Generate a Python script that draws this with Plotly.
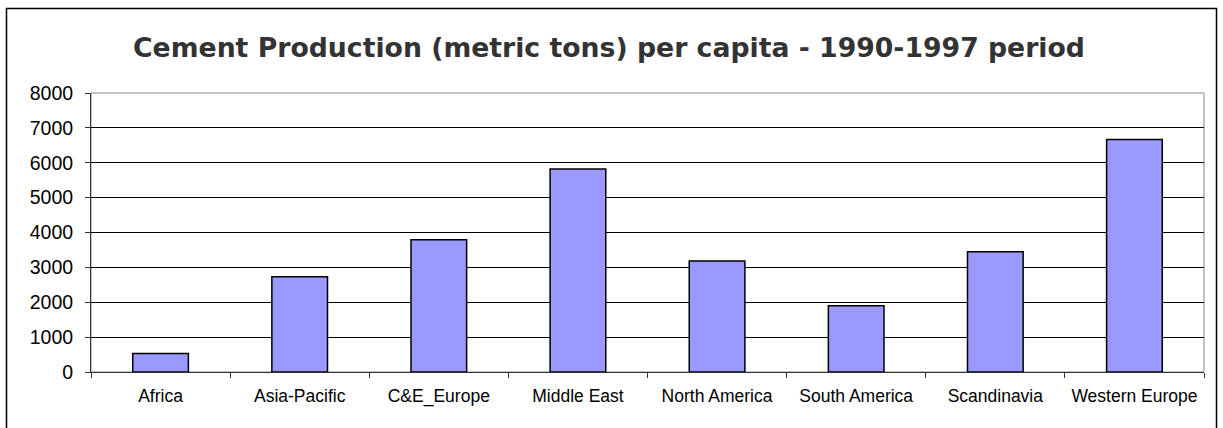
import plotly.graph_objects as go

categories = ["Africa", "Asia-Pacific", "C&E_Europe", "Middle East",
              "North America", "South America", "Scandinavia", "Western Europe"]
values = [530, 2730, 3790, 5820, 3180, 1900, 3450, 6670]
y_ticks = [0, 1000, 2000, 3000, 4000, 5000, 6000, 7000, 8000]
title_text = "Cement Production (metric tons) per capita - 1990-1997 period"

W, H = 1223, 428
ml, mr, mt, mb = 91, 19, 93, 56
pw, ph = W - ml - mr, H - mt - mb

fig = go.Figure(go.Bar(
    x=categories, y=values,
    marker=dict(color="#9999FF", line=dict(color="#000000", width=1.5)),
))

def px_to_paper_x(px):
    return (px - ml) / pw

def px_to_paper_y(py):
    return (H - mb - py) / ph

fig.update_layout(
    width=W, height=H,
    margin=dict(l=ml, r=mr, t=mt, b=mb),
    paper_bgcolor="white", plot_bgcolor="white",
    bargap=0.6,
    showlegend=False,
    title=dict(text="<b>" + title_text + "</b>", x=609 / W, xref="container",
               xanchor="center",
               y=1 - 48 / H, yanchor="middle",
               font=dict(family="DejaVu Sans", size=26.7, color="#333333")),
    xaxis=dict(
        showline=True, linecolor="#333333", linewidth=1,
        ticks="outside", tickson="boundaries", ticklen=5, tickcolor="#333333",
        ticklabelstandoff=8,
        tickfont=dict(family="Liberation Sans", size=17.5, color="#000000"),
        showgrid=False,
    ),
    yaxis=dict(
        range=[0, 8000], tickvals=y_ticks,
        showline=True, linecolor="#333333", linewidth=1,
        ticks="outside", ticklen=5, tickcolor="#333333",
        ticklabelstandoff=8,
        tickfont=dict(family="Liberation Sans", size=19.5, color="#000000"),
        showgrid=True, gridcolor="#000000", gridwidth=1,
        zeroline=False,
    ),
    shapes=[
        dict(type="rect", xref="paper", yref="paper", x0=0, x1=1, y0=0, y1=1,
             line=dict(color="#888888", width=1), layer="below"),
        dict(type="rect", xref="paper", yref="paper",
             x0=px_to_paper_x(6.5), x1=px_to_paper_x(1216.5),
             y0=px_to_paper_y(440), y1=px_to_paper_y(8.5),
             line=dict(color="#000000", width=1.5)),
    ],
)

fig.write_html("out.html",
               config={"displayModeBar": False},
               post_script="document.body.style.margin='0';document.body.style.padding='0';")
